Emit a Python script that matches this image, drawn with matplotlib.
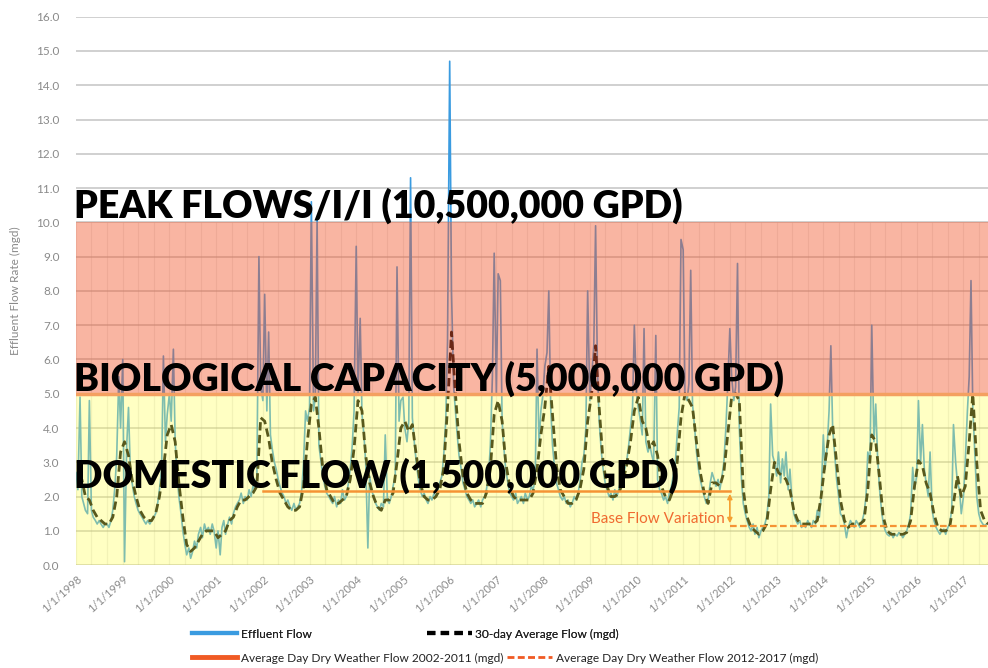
"""
Effluent flow history with capacity bands.
"""

import pandas as pd
import matplotlib
matplotlib.use("Agg")
import matplotlib.pyplot as plt
from matplotlib.lines import Line2D

plt.rcParams["font.family"] = ["Lato", "DejaVu Sans"]

# effluent flow (mgd), read on the 1st and 15th of each month, 1998 -> Jul 2017
effluent_flow = [
    2.7, 2.2, 4.9, 2.0, 1.8, 1.6, 1.5, 4.8, 1.6, 1.4, 1.3, 1.2, 1.3, 1.2, 1.1, 1.2, 1.2, 1.1, 1.3, 1.6, 2.3, 3.2, 5.5, 4.0,  # 1998
    6.0, 0.1, 3.5, 4.6, 2.8, 2.4, 2.0, 1.8, 1.6, 1.5, 1.4, 1.3, 1.2, 1.3, 1.2, 1.3, 1.4, 1.5, 1.8, 2.2, 2.8, 6.1, 3.6, 4.4,  # 1999
    5.0, 4.2, 6.3, 3.6, 2.6, 2.0, 1.5, 1.0, 0.6, 0.3, 0.5, 0.2, 0.4, 0.7, 0.5, 0.9, 1.1, 0.8, 1.2, 1.0, 1.1, 0.9, 1.2, 1.0,  # 2000
    0.5, 1.0, 0.3, 1.1, 1.3, 0.9, 1.2, 1.4, 1.2, 1.5, 1.7, 1.8, 1.9, 2.1, 1.8, 2.0, 1.9, 2.2, 2.0, 2.3, 2.2, 2.6, 9.0, 5.2,  # 2001
    4.8, 7.9, 4.5, 6.8, 3.8, 3.4, 3.0, 2.8, 2.5, 2.3, 2.1, 2.0, 1.8, 1.9, 1.7, 1.6, 1.8, 1.6, 1.7, 1.8, 2.2, 3.0, 4.5, 4.2,  # 2002
    4.6, 10.6, 4.5, 4.9, 10.1, 3.5, 3.0, 2.6, 2.3, 2.1, 2.0, 1.9, 1.8, 2.0, 1.7, 1.9, 1.8, 2.2, 1.9, 2.0, 2.4, 2.8, 3.5, 4.5,  # 2003
    9.3, 5.0, 7.2, 4.4, 3.8, 3.0, 0.5, 2.6, 2.2, 2.0, 1.8, 1.7, 1.6, 1.8, 1.7, 3.8, 1.9, 1.8, 2.0, 2.3, 2.6, 8.7, 4.2, 4.8,  # 2004
    4.9, 4.0, 3.6, 4.2, 11.3, 4.3, 3.5, 3.0, 2.5, 2.2, 2.0, 2.1, 1.9, 1.8, 2.0, 1.9, 2.1, 2.0, 2.2, 2.4, 2.6, 3.2, 4.2, 6.5,  # 2005
    14.7, 8.0, 5.2, 4.5, 3.8, 3.2, 2.8, 2.4, 2.2, 2.0, 1.9, 1.8, 1.9, 1.7, 1.8, 1.9, 1.7, 1.9, 2.0, 2.2, 2.6, 3.5, 5.5, 9.1,  # 2006
    5.0, 8.5, 8.3, 4.2, 3.4, 2.8, 2.4, 2.1, 2.0, 1.9, 2.1, 1.8, 1.9, 2.0, 1.8, 2.1, 1.9, 2.0, 2.3, 2.2, 2.5, 6.3, 3.5, 4.5,  # 2007
    5.0, 5.8, 6.2, 8.0, 4.6, 3.5, 2.8, 2.4, 2.2, 2.0, 1.9, 2.0, 1.8, 1.9, 1.7, 1.8, 2.0, 1.9, 2.1, 2.4, 3.0, 3.2, 4.0, 8.0,  # 2008
    4.8, 5.5, 6.4, 9.9, 5.8, 4.2, 3.3, 2.8, 2.4, 2.2, 2.0, 2.1, 1.9, 2.2, 2.0, 2.2, 2.5, 2.4, 2.8, 3.0, 3.5, 4.0, 4.6, 7.0,  # 2009
    5.0, 4.6, 4.2, 3.8, 6.9, 3.6, 3.3, 3.5, 3.2, 3.0, 6.7, 2.5, 2.2, 2.1, 1.9, 2.0, 1.8, 2.1, 2.3, 2.6, 3.0, 3.8, 4.6, 9.5,  # 2010
    9.2, 5.0, 4.8, 5.3, 8.6, 4.7, 4.0, 3.3, 2.8, 2.5, 2.2, 2.0, 1.8, 1.9, 2.4, 2.7, 2.5, 2.3, 2.5, 2.2, 2.6, 3.0, 4.0, 5.2,  # 2011
    6.9, 5.5, 4.8, 5.2, 8.8, 4.0, 2.5, 1.8, 1.5, 1.3, 1.1, 1.0, 1.2, 0.9, 1.1, 0.8, 1.0, 1.1, 1.2, 1.4, 2.0, 4.7, 3.2, 3.0,  # 2012
    2.6, 3.3, 2.4, 3.1, 2.6, 3.3, 2.2, 2.8, 1.9, 1.5, 1.3, 1.2, 1.3, 1.1, 1.2, 1.1, 1.3, 1.2, 1.1, 1.3, 1.2, 1.6, 1.4, 2.0,  # 2013
    3.8, 2.8, 3.5, 4.5, 6.4, 4.0, 3.2, 2.5, 2.0, 1.5, 1.4, 1.2, 0.8, 1.1, 1.3, 1.2, 1.1, 1.3, 1.2, 1.1, 1.3, 1.5, 2.0, 3.3,  # 2014
    3.0, 7.0, 3.6, 4.7, 3.2, 2.3, 1.6, 1.2, 1.0, 0.9, 0.85, 0.95, 0.8, 0.9, 0.85, 0.95, 0.9, 0.8, 0.9, 1.0, 1.2, 1.5, 2.85, 2.2,  # 2015
    2.6, 4.8, 3.0, 4.1, 2.8, 2.4, 2.0, 3.3, 1.6, 1.3, 1.1, 1.0, 0.9, 1.0, 1.05, 0.9, 1.1, 1.2, 1.6, 4.1, 3.0, 2.4, 2.2, 1.5,  # 2016
    2.0, 3.0, 4.5, 5.5, 8.3, 4.6, 3.2, 2.0, 1.5, 1.3, 1.2, 1.15, 1.2,  # 2017
]

# 30-day average flow (mgd), one value per month
avg_flow = [
    2.6, 2.5, 2.0, 1.9, 1.6, 1.4, 1.3, 1.2, 1.2, 1.4, 2.0, 3.3,  # 1998
    3.6, 3.2, 2.5, 2.0, 1.6, 1.4, 1.3, 1.3, 1.5, 2.0, 2.8, 3.8,  # 1999
    4.1, 3.6, 2.4, 1.4, 0.6, 0.4, 0.5, 0.7, 0.9, 1.0, 1.0, 1.0,  # 2000
    0.8, 0.9, 1.0, 1.3, 1.4, 1.7, 1.9, 1.9, 2.0, 2.1, 2.3, 4.3,  # 2001
    4.2, 3.7, 3.0, 2.5, 2.1, 1.9, 1.7, 1.6, 1.6, 1.7, 2.3, 3.6,  # 2002
    4.7, 4.9, 4.0, 2.8, 2.2, 2.0, 1.8, 1.8, 1.9, 2.0, 2.5, 3.4,  # 2003
    4.8, 4.5, 3.2, 2.4, 2.0, 1.7, 1.6, 1.9, 1.9, 2.1, 3.0, 4.0,  # 2004
    4.2, 3.9, 4.1, 3.2, 2.4, 2.0, 1.9, 1.9, 2.0, 2.2, 2.8, 4.6,  # 2005
    6.8, 5.0, 3.6, 2.6, 2.1, 1.9, 1.8, 1.8, 1.8, 2.1, 2.8, 4.4,  # 2006
    4.8, 4.2, 3.0, 2.3, 2.0, 1.9, 1.9, 1.9, 1.9, 2.1, 2.8, 3.8,  # 2007
    4.6, 5.8, 4.4, 2.9, 2.2, 2.0, 1.8, 1.8, 1.9, 2.2, 2.8, 4.2,  # 2008
    5.0, 6.4, 4.6, 3.0, 2.3, 2.0, 2.0, 2.1, 2.4, 2.9, 3.6, 4.5,  # 2009
    4.9, 4.2, 4.0, 3.4, 3.6, 3.2, 2.3, 2.0, 1.9, 2.2, 3.0, 4.3,  # 2010
    5.0, 4.8, 4.6, 3.6, 2.7, 2.1, 1.8, 2.4, 2.4, 2.3, 2.7, 3.8,  # 2011
    4.9, 5.0, 4.8, 2.2, 1.4, 1.1, 1.0, 0.9, 1.0, 1.2, 2.2, 3.0,  # 2012
    2.7, 2.6, 2.5, 2.2, 1.6, 1.3, 1.2, 1.2, 1.2, 1.2, 1.3, 2.0,  # 2013
    3.0, 3.8, 4.1, 3.0, 1.9, 1.3, 1.1, 1.2, 1.2, 1.2, 1.3, 2.2,  # 2014
    3.8, 3.6, 2.6, 1.4, 1.0, 0.9, 0.9, 0.9, 0.9, 0.95, 1.3, 2.3,  # 2015
    3.05, 2.9, 2.4, 2.1, 1.5, 1.1, 1.0, 1.0, 1.1, 1.8, 2.6, 2.0,  # 2016
    2.3, 3.6, 5.0, 3.0, 1.6, 1.3, 1.2,  # 2017
]

addwf_2002_2011 = 2.16
addwf_2012_2017 = 1.14

band_labels = [
    (10.15, "PEAK FLOWS/I/I (10,500,000 GPD)"),
    (5.1, "BIOLOGICAL CAPACITY (5,000,000 GPD)"),
    (2.25, "DOMESTIC FLOW (1,500,000 GPD)"),
]

flow_dates = pd.date_range("1998-01-01", "2017-07-01", freq="SMS")
avg_dates = pd.date_range("1998-01-01", "2017-07-01", freq="MS") + pd.Timedelta(days=14)
x_start = pd.Timestamp("1998-01-01")
x_end = pd.Timestamp("2017-07-12")
split = pd.Timestamp("2012-01-01")

BLUE = "#3A9BE0"
ORANGE = "#F05A24"

fig = plt.figure(figsize=(9.88, 6.68), dpi=100)
ax = fig.add_axes([0.077, 0.154, 0.923, 0.821])

ax.plot(flow_dates, effluent_flow, color=BLUE, lw=1.2, zorder=2)
ax.plot(avg_dates, avg_flow, color="black", lw=2.0, dashes=(3, 1.6), zorder=2.2)
ax.plot([pd.Timestamp("2002-01-01"), split], [addwf_2002_2011] * 2,
        color=ORANGE, lw=1.8, zorder=2.3)
ax.plot([split, x_end], [addwf_2012_2017] * 2, color=ORANGE, lw=1.6,
        dashes=(3, 1.5), zorder=2.3)

# capacity bands sit over the data, semi-transparent
ax.axhspan(0, 5, color="#FFFF53", alpha=0.35, lw=0, zorder=3)
ax.axhspan(5, 10, color="#F25B31", alpha=0.45, lw=0, zorder=3)
ax.axhline(5, color="#F4A060", lw=2.5, zorder=3.2)

# grid
ax.set_yticks(range(0, 17))
ax.grid(axis="y", color="#C8C8C8", lw=1.2, zorder=1)
ax.vlines(pd.date_range("1998-01-01", "2017-07-01", freq="4MS"), 0, 10,
          color="#A0A0A0", alpha=0.2, lw=0.8, zorder=1)
ax.set_axisbelow(True)

# base flow annotation
ax.annotate("", xy=(split, addwf_2012_2017), xytext=(split, addwf_2002_2011),
            arrowprops=dict(arrowstyle="<|-|>", color="#F5A030", lw=1.2,
                            mutation_scale=7), zorder=4)
ax.text(pd.Timestamp("2011-11-20"), 1.35, "Base Flow Variation", color="#F06A30",
        fontsize=11, ha="right", va="center", zorder=4)

for y, label in band_labels:
    ax.text(-0.002, y, label, transform=ax.get_yaxis_transform(),
            fontsize=27, fontweight="heavy", color="black",
            ha="left", va="baseline", zorder=5)

ax.set_xlim(x_start, x_end)
ax.set_ylim(0, 16)
ax.set_yticklabels([f"{v:.1f}" for v in range(0, 17)])
ax.set_ylabel("Effluent Flow Rate (mgd)", color="#8A8A8A", fontsize=8.5, labelpad=11)

years = pd.date_range("1998-01-01", "2017-01-01", freq="YS")
ax.set_xticks(years)
ax.set_xticklabels([f"1/1/{d.year}" for d in years], rotation=42, ha="right",
                   rotation_mode="anchor", fontsize=8, color="#8A8A8A")
ax.tick_params(axis="y", length=0, pad=12, labelsize=8.5, labelcolor="#8A8A8A")
ax.tick_params(axis="x", length=0, pad=6)
for s in ax.spines.values():
    s.set_visible(False)

# legend: two free-flowing rows, as in the source
row1 = [Line2D([], [], color=BLUE, lw=3),
        Line2D([], [], color="black", lw=3, dashes=(2, 1.3))]
row2 = [Line2D([], [], color=ORANGE, lw=3.5),
        Line2D([], [], color=ORANGE, lw=2, dashes=(2.5, 1.2))]
leg_kw = dict(ncol=2, loc="center left", frameon=False, fontsize=8.6,
              handlelength=3.8, handletextpad=0.3, borderaxespad=0, borderpad=0,
              labelcolor="#222222")
leg1 = fig.legend(row1, ["Effluent Flow", "30-day Average Flow (mgd)"],
                  bbox_to_anchor=(192 / 988, 1 - 634 / 668), columnspacing=9.6,
                  **leg_kw)
fig.add_artist(leg1)
fig.legend(row2, ["Average Day Dry Weather Flow 2002-2011 (mgd)",
                  "Average Day Dry Weather Flow 2012-2017 (mgd)"],
           bbox_to_anchor=(192 / 988, 1 - 658 / 668), columnspacing=0.3, **leg_kw)

fig.savefig("out.png", dpi=100)
